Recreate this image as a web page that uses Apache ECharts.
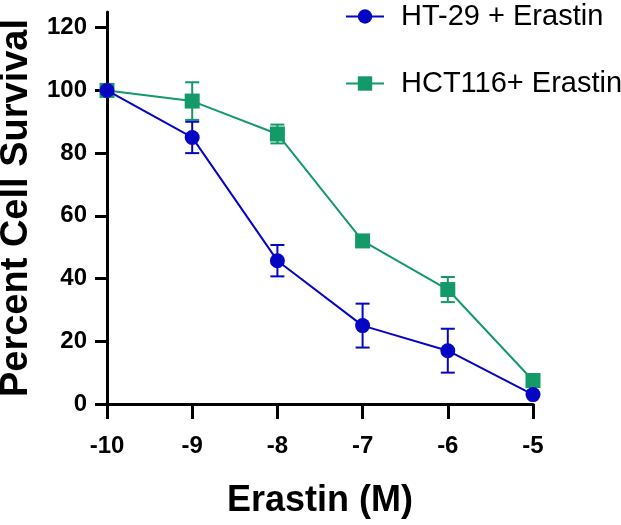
<!DOCTYPE html>
<html>
<head>
<meta charset="utf-8">
<style>
    html, body { margin: 0; padding: 0; background: #fff; }
    #chart { width: 621px; height: 525px; }
</style>
<script src="https://cdn.jsdelivr.net/npm/echarts@6/dist/echarts.min.js"></script>
</head>
<body>
<div id="chart"></div>
<script>
    // log concentration (M)
    var doses = [-10, -9, -8, -7, -6, -5];
    // HT-29 + Erastin
    var ht29Mean = [100, 85, 45.7, 25, 17, 3];
    var ht29Err  = [0, 5, 5, 7, 7, 0];
    // HCT116 + Erastin
    var hctMean = [100, 96.6, 86.1, 52, 36.5, 7.5];
    var hctErr  = [0, 6, 3, 1.5, 4, 0];
    var yTicks = [0, 20, 40, 60, 80, 100, 120];

    var blue = '#0505C4';
    var green = '#149A68';
    var font = 'Liberation Sans, Arial, sans-serif';

    function pairs(xs, ys) {
        return xs.map(function (x, i) { return [x, ys[i]]; });
    }
    function errData(xs, ys, es) {
        return xs.map(function (x, i) { return [x, ys[i] - es[i], ys[i] + es[i]]; });
    }
    //error bars with caps
    function errRender(color) {
        return function (params, api) {
            var lo = api.coord([api.value(0), api.value(1)]);
            var hi = api.coord([api.value(0), api.value(2)]);
            var w = 7;
            var st = { stroke: color, lineWidth: 2 };
            return {
                type: 'group',
                children: [
                    { type: 'line', shape: { x1: lo[0], y1: lo[1], x2: hi[0], y2: hi[1] }, style: st },
                    { type: 'line', shape: { x1: lo[0] - w, y1: lo[1], x2: lo[0] + w, y2: lo[1] }, style: st },
                    { type: 'line', shape: { x1: hi[0] - w, y1: hi[1], x2: hi[0] + w, y2: hi[1] }, style: st }
                ]
            };
        };
    }

    var chart = echarts.init(document.getElementById('chart'));
    chart.setOption({
        animation: false,
        textStyle: { fontFamily: font },
        grid: { left: 107, right: 88, top: 12, bottom: 121, containLabel: false, outerBoundsMode: 'none' },
        legend: [{
            data: ['HT-29 + Erastin'],
            left: 340, top: -3,
            itemWidth: 38, itemHeight: 18,
            textStyle: { fontSize: 29, color: '#000', padding: [0, 0, 0, 12] }
        }, {
            data: ['HCT116+ Erastin'],
            left: 340, top: 64,
            itemWidth: 38, itemHeight: 18,
            textStyle: { fontSize: 29, color: '#000', padding: [0, 0, 0, 12] }
        }],
        xAxis: {
            type: 'value',
            min: -10, max: -5, interval: 1,
            name: 'Erastin (M)',
            nameLocation: 'middle',
            nameGap: 79,
            nameTextStyle: { fontSize: 36, fontWeight: 'bold', color: '#000' },
            axisLine: { onZero: false, lineStyle: { color: '#000', width: 3 } },
            axisTick: { length: 15, lineStyle: { color: '#000', width: 3 } },
            axisLabel: { margin: 30, fontSize: 24, fontWeight: 'bold', color: '#000' },
            splitLine: { show: false }
        },
        yAxis: {
            type: 'value',
            min: 0, max: 125,
            name: 'Percent Cell Survival',
            nameLocation: 'middle',
            nameGap: 71,
            nameTextStyle: { fontSize: 38, fontWeight: 'bold', color: '#000' },
            axisLine: { show: true, lineStyle: { color: '#000', width: 3 } },
            axisTick: { show: true, length: 12, customValues: yTicks, lineStyle: { color: '#000', width: 3 } },
            axisLabel: { margin: 20, fontSize: 24, fontWeight: 'bold', color: '#000', customValues: yTicks },
            splitLine: { show: false }
        },
        series: [{
            name: 'HCT116+ Erastin',
            type: 'line',
            data: pairs(doses, hctMean),
            symbol: 'rect',
            symbolSize: 15,
            itemStyle: { color: green },
            lineStyle: { color: green, width: 2 },
            z: 2
        }, {
            type: 'custom',
            data: errData(doses, hctMean, hctErr),
            renderItem: errRender(green),
            z: 2
        }, {
            name: 'HT-29 + Erastin',
            type: 'line',
            data: pairs(doses, ht29Mean),
            symbol: 'circle',
            symbolSize: 15,
            itemStyle: { color: blue },
            lineStyle: { color: blue, width: 2 },
            z: 3
        }, {
            type: 'custom',
            data: errData(doses, ht29Mean, ht29Err),
            renderItem: errRender(blue),
            z: 3
        }]
    });
</script>
</body>
</html>
